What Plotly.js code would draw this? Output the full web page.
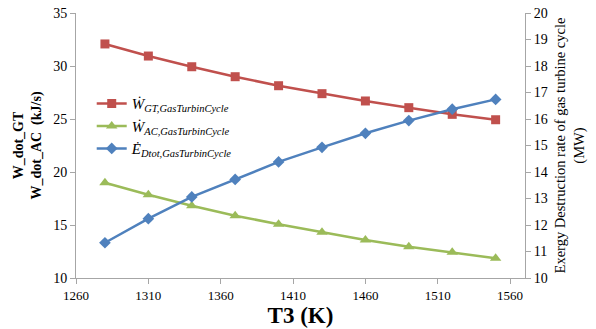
<!DOCTYPE html>
<html>
<head>
<meta charset="utf-8">
<script src="https://cdn.plot.ly/plotly-3.0.1.min.js"></script>
<style>html,body{margin:0;padding:0;background:#fff;}#chart{width:596px;height:329px;}</style>
</head>
<body>
<div id="chart"></div>
<script>
const T3 = [1280, 1310, 1340, 1370, 1400, 1430, 1460, 1490, 1520, 1550];
const W_GT = [32.08, 30.94, 29.93, 28.99, 28.14, 27.39, 26.70, 26.07, 25.44, 24.93];
const W_AC = [18.99, 17.86, 16.82, 15.88, 15.07, 14.31, 13.58, 12.95, 12.42, 11.86];
const E_Dtot = [11.33, 12.24, 13.06, 13.72, 14.38, 14.93, 15.46, 15.94, 16.37, 16.74];
const xTicks = [1260, 1310, 1360, 1410, 1460, 1510, 1560];

const traces = [
  {x: T3, y: W_GT, name: '<i>Ẇ<sub>GT,GasTurbinCycle</sub></i>', mode: 'lines+markers',
   line: {color: '#C0504D', width: 2.5}, marker: {symbol: 'square', size: 9, color: '#C0504D'}},
  {x: T3, y: W_AC, name: '<i>Ẇ<sub>AC,GasTurbinCycle</sub></i>', mode: 'lines+markers',
   line: {color: '#9BBB59', width: 2.5}, marker: {symbol: 'triangle-up', size: 10, color: '#9BBB59'}},
  {x: T3, y: E_Dtot, name: '<i>Ė<sub>Dtot,GasTurbinCycle</sub></i>', mode: 'lines+markers', yaxis: 'y2',
   line: {color: '#4F81BD', width: 2.5}, marker: {symbol: 'diamond', size: 9, color: '#4F81BD'}}
];

const serif = 'Liberation Serif, Times New Roman, serif';

const layout = {
  width: 596, height: 329,
  margin: {l: 76, r: 71, t: 13, b: 51},
  paper_bgcolor: '#fff', plot_bgcolor: '#fff',
  font: {family: serif, size: 14, color: '#000'},
  showlegend: true,
  legend: {x: 0.035, y: 0.72, xanchor: 'left', yanchor: 'top', bgcolor: 'rgba(0,0,0,0)',
           font: {size: 15, family: serif}, tracegroupgap: 0, itemwidth: 30},
  xaxis: {range: [1260, 1570.3], tickvals: xTicks, ticktext: xTicks.map(String),
          showgrid: false, zeroline: false, showline: true, linecolor: '#a6a6a6', linewidth: 1,
          ticks: 'outside', ticklen: 5, tickcolor: '#a6a6a6', tickfont: {family: serif, size: 13},
          title: {text: '<b>T3 (K)</b>', font: {family: serif, size: 23}, standoff: 5}},
  yaxis: {range: [10, 35], dtick: 5, showgrid: false, zeroline: false, showline: true,
          linecolor: '#a6a6a6', linewidth: 1, ticks: 'outside', ticklen: 5, tickcolor: '#a6a6a6',
          tickfont: {family: serif, size: 14},
          title: {text: '<b>W_dot_GT<br>W_dot_AC  (kJ/s)</b>', font: {family: serif, size: 14}, standoff: 8}},
  yaxis2: {range: [10, 20], dtick: 1, overlaying: 'y', side: 'right', showgrid: false, zeroline: false,
           showline: true, linecolor: '#a6a6a6', linewidth: 1, ticks: 'outside', ticklen: 5, tickcolor: '#a6a6a6',
           tickfont: {family: serif, size: 14},
           title: {text: 'Exergy Destruction rate of gas turbine cycle<br>(MW)', font: {family: serif, size: 14.5}, standoff: 8}}
};

Plotly.newPlot('chart', traces, layout, {displayModeBar: false, staticPlot: true});
</script>
</body>
</html>
